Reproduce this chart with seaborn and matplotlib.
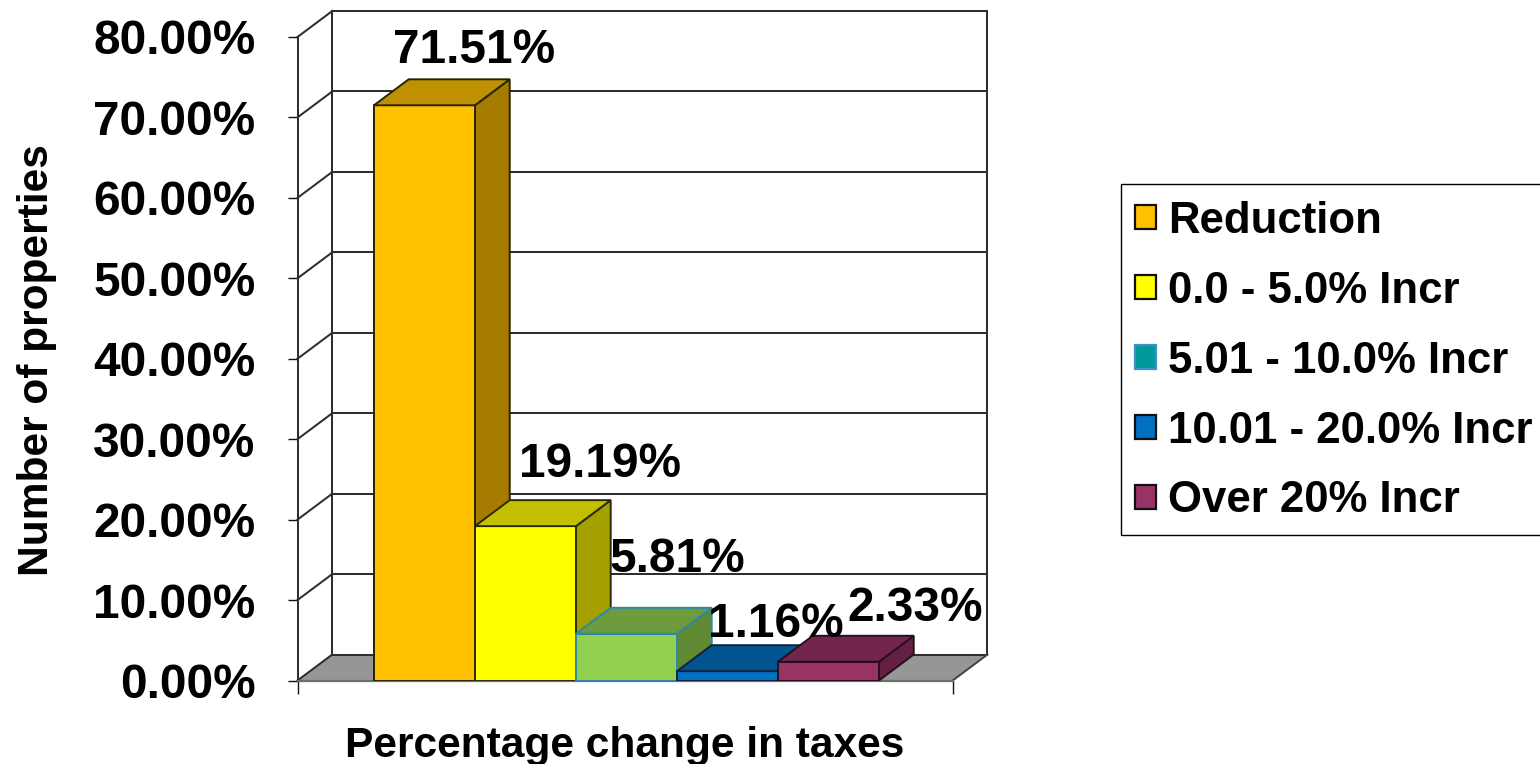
import matplotlib
matplotlib.use("Agg")
import matplotlib.pyplot as plt
import pandas as pd
import seaborn as sns
from matplotlib.patches import Patch, Polygon, Rectangle

categories = ["Reduction", "0.0 - 5.0% Incr", "5.01 - 10.0% Incr", "10.01 - 20.0% Incr", "Over 20% Incr"]
shares = [71.51, 19.19, 5.81, 1.16, 2.33]
value_labels = ["71.51%", "19.19%", "5.81%", "1.16%", "2.33%"]
y_ticks = [0, 10, 20, 30, 40, 50, 60, 70, 80]
y_tick_labels = ["0.00%", "10.00%", "20.00%", "30.00%", "40.00%", "50.00%", "60.00%", "70.00%", "80.00%"]

front_colors = ["#FFC000", "#FFFF00", "#92D050", "#0070C0", "#993366"]
top_colors = ["#BF9000", "#C4BF00", "#6E9C3C", "#005490", "#73264D"]
side_colors = ["#A67C00", "#A3A000", "#5F8A33", "#004C80", "#632042"]
edge_colors = ["#2B2300", "#2B2B00", "#2E86AB", "#10233A", "#25101C"]
legend_colors = ["#FFC000", "#FFFF00", "#009999", "#0070C0", "#993366"]
legend_edges = ["#111111", "#111111", "#3D8FD1", "#111111", "#111111"]

W, H = 1540, 764
sns.set_theme(style="white")
plt.rcParams["font.family"] = ["Liberation Sans", "DejaVu Sans"]
plt.rcParams["font.weight"] = "bold"

fig = plt.figure(figsize=(W / 100, H / 100), dpi=100, facecolor="white")
ax = fig.add_axes([297.5 / W, 1 - 680.5 / H, 655.2 / W, 643.5 / H])

df = pd.DataFrame({"category": categories, "share": shares})
sns.barplot(data=df, x="category", y="share", hue="category", palette=front_colors,
            hue_order=categories, order=categories, width=1, dodge=False,
            legend=False, saturation=1, ax=ax)

XMIN, XMAX = -1.257, 5.230
DX, DY = 0.344, 3.23  # oblique offset of the box depth, in data units
ax.set_xlim(XMIN, XMAX)
ax.set_ylim(0, 80)
sns.despine(ax=ax, left=True, bottom=True, top=True, right=True)

FRAME = "#2E2E2E"
LW = 1.45


def line(xs, ys, color=FRAME, lw=LW, z=1):
    ax.plot(xs, ys, color=color, lw=lw, zorder=z, clip_on=False, solid_capstyle="projecting")


# floor and wall frame of the oblique box
ax.add_patch(Polygon([(XMIN, 0), (XMIN + DX, DY), (XMAX + DX, DY), (XMAX, 0)],
                     closed=True, facecolor="#969696", edgecolor="none", zorder=0.5, clip_on=False))
for v in y_ticks:
    line([XMIN + DX, XMAX + DX], [v + DY, v + DY])
    line([XMIN, XMIN + DX], [v, v + DY])
line([XMIN, XMIN], [0, 80])
line([XMIN + DX, XMIN + DX], [DY, 80 + DY])
line([XMAX + DX, XMAX + DX], [DY, 80 + DY])
line([XMIN, XMAX], [0, 0], color="#6E6E6E", lw=1.6, z=1.2)
line([XMAX, XMAX + DX], [0, DY], color="#444444")

# front faces come from the bar containers; tops and sides extend them in depth
for i, container in enumerate(ax.containers):
    for bar in container:
        z = 3 + i
        bar.set_zorder(z)
        bar.set_edgecolor(edge_colors[i])
        bar.set_linewidth(1.4)
        x0, x1 = bar.get_x(), bar.get_x() + bar.get_width()
        v = bar.get_height()
        ax.add_patch(Polygon([(x0, v), (x0 + DX, v + DY), (x1 + DX, v + DY), (x1, v)], closed=True,
                             facecolor=top_colors[i], edgecolor=edge_colors[i], lw=1.4,
                             zorder=z, clip_on=False))
        ax.add_patch(Polygon([(x1, 0), (x1 + DX, DY), (x1 + DX, v + DY), (x1, v)], closed=True,
                             facecolor=side_colors[i], edgecolor=edge_colors[i], lw=1.4,
                             zorder=z - 0.1, clip_on=False))

ax.set_yticks(y_ticks)
ax.set_yticklabels(y_tick_labels, fontsize=34.4, fontweight="bold", color="black")
ax.set_xticks([XMIN, XMAX])
ax.set_xticklabels(["", ""])
ax.tick_params(axis="y", length=7.2, width=1, color="#111111", pad=23.2, left=True)
ax.tick_params(axis="x", length=9, width=1, color="#111111", bottom=True)

ax.set_xlabel("Percentage change in taxes", fontsize=30.6, fontweight="bold", color="black", va="center")
ax.xaxis.set_label_coords(0.4995, -0.1025)
ax.set_ylabel("Number of properties", fontsize=30.6, fontweight="bold", color="black", va="center")
ax.yaxis.set_label_coords(-0.3975, 0.498)

# value labels sit beside their bars, placed by hand in category/value offsets
label_shift = [(0.495, 6.84), (0.735, 7.7), (0.505, 9.2), (0.475, 5.8), (0.855, 6.6)]
for i, (text, v, (sx, sy)) in enumerate(zip(value_labels, shares, label_shift)):
    ax.text(i + sx, v + sy, text, ha="center", va="center", fontsize=34.4,
            fontweight="bold", color="black", zorder=20, clip_on=False)

# legend box runs past the right edge of the figure
fig.add_artist(Rectangle((1121 / W, 1 - 535 / H), 430 / W, 351 / H, transform=fig.transFigure,
                         facecolor="white", edgecolor="black", lw=1))
handles = [Patch(facecolor=c, edgecolor=e, lw=1.6) for c, e in zip(legend_colors, legend_edges)]
leg = fig.legend(handles, categories, loc="upper left",
                 bbox_to_anchor=(1134.5 / W, 1 - 201 / H), bbox_transform=fig.transFigure,
                 borderaxespad=0, prop={"family": "Liberation Sans", "weight": "bold", "size": 31.5},
                 frameon=False,
                 handlelength=0.5, handleheight=0.47, handletextpad=0.27,
                 borderpad=0, labelspacing=0.66)
for t in leg.get_texts():
    t.set_color("black")

fig.savefig("out.png", dpi=100, facecolor="white")
